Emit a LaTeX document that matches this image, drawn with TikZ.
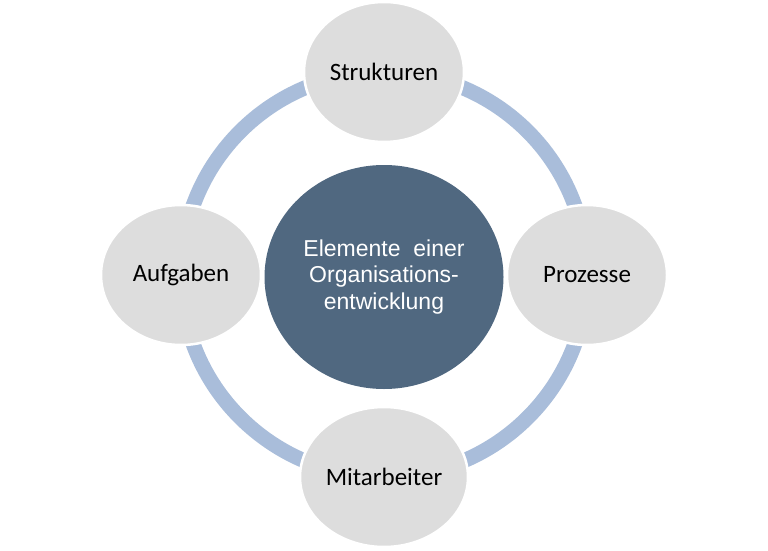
\documentclass[tikz,border=0pt]{standalone}
\usepackage{fontspec}
\setmainfont{Carlito}
\newfontfamily\arialfont{Liberation Sans}
\usetikzlibrary{shapes.geometric,backgrounds}
\definecolor{ringBlue}{HTML}{A9BDDA}
\definecolor{coreBlue}{HTML}{506880}
\definecolor{elemGray}{HTML}{DDDDDD}
\tikzstyle{outerElem}=[shape = ellipse, minimum width = 160pt, minimum height = 140pt, inner sep = 0pt, fill = elemGray, draw = white, line width = 2.5pt, font = \fontsize{25}{30}\selectfont]
\tikzstyle{coreElem}=[shape = ellipse, minimum width = 239pt, minimum height = 224pt, inner sep = 0pt, fill = coreBlue, text = white, align = center, font = \arialfont\fontsize{23}{26.5}\selectfont]

\begin{document}
\begin{tikzpicture}[x = 1pt, y = 1pt]
\useasboundingbox (0,0) rectangle (768,550);
\tikzstyle{ringStyle}=[draw = ringBlue, line width = 15pt]
\node[coreElem] (core) at (384,273) {Elemente\ \ einer\\Organisations-\\entwicklung};
\node[outerElem] (struk) at (384,478) {Strukturen};
\node[outerElem] (proz) at (587,275) {Prozesse};
\node[outerElem, minimum width = 168pt] (mitarb) at (384,73) {Mitarbeiter};
\node[outerElem] (aufg) at (181,275) {Aufgaben};
\begin{scope}[on background layer]
\draw[ringStyle] (struk.center) to[out = 0, in = 90] (proz.center) to[out = -90, in = 0] (mitarb.center) to[out = 180, in = -90] (aufg.center) to[out = 90, in = 180] (struk.center);
\end{scope}
\end{tikzpicture}
\end{document}
